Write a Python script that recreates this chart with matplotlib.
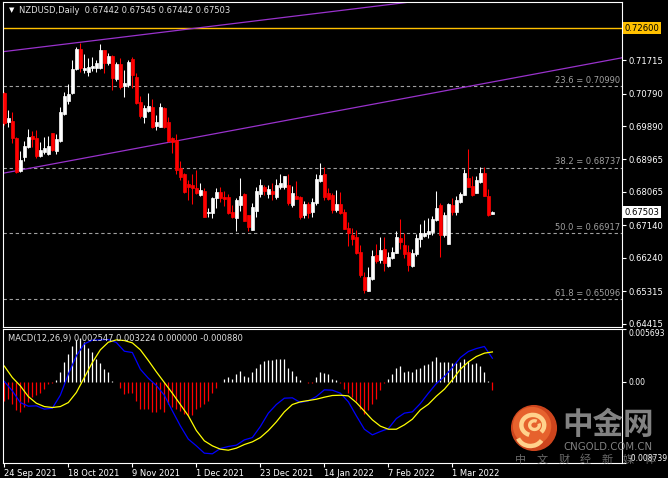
import matplotlib.pyplot as plt
from matplotlib.patches import Circle, Arc
import numpy as np

# NZDUSD daily bars, bar 0 = 24 Sep 2021, last bar = 15 Mar 2022
opens = [
    0.7080, 0.7000, 0.7003, 0.6956, 0.6864, 0.6903, 0.6931, 0.6961, 0.6956, 0.6906,
    0.6917, 0.6911, 0.6970, 0.6920, 0.6947, 0.7022, 0.7058, 0.7080, 0.7147, 0.7202,
    0.7144, 0.7139, 0.7150, 0.7150, 0.7150, 0.7199, 0.7163, 0.7183, 0.7119, 0.7161,
    0.7100, 0.7103, 0.7175, 0.7125, 0.7055, 0.7014, 0.7030, 0.7042, 0.6989, 0.6986,
    0.7039, 0.7000, 0.6956, 0.6950, 0.6873, 0.6856, 0.6828, 0.6825, 0.6817, 0.6798,
    0.6809, 0.6748, 0.6748, 0.6790, 0.6806, 0.6792, 0.6792, 0.6751, 0.6734, 0.6770,
    0.6801, 0.6742, 0.6701, 0.6754, 0.6801, 0.6820, 0.6801, 0.6809, 0.6792, 0.6820,
    0.6820, 0.6826, 0.6770, 0.6795, 0.6792, 0.6742, 0.6773, 0.6751, 0.6776, 0.6837,
    0.6856, 0.6803, 0.6798, 0.6756, 0.6773, 0.6751, 0.6707, 0.6687, 0.6682, 0.6640,
    0.6571, 0.6532, 0.6565, 0.6632, 0.6618, 0.6649, 0.6601, 0.6623, 0.6637, 0.6679,
    0.6659, 0.6640, 0.6601, 0.6635, 0.6676, 0.6684, 0.6690, 0.6695, 0.6729, 0.6770,
    0.6687, 0.6662, 0.6770, 0.6751, 0.6778, 0.6798, 0.6845, 0.6823, 0.6803, 0.6834,
    0.6859, 0.6795, 0.67442]
highs = [
    0.7083, 0.7033, 0.7028, 0.6959, 0.6920, 0.6947, 0.6981, 0.6975, 0.6978, 0.6945,
    0.6959, 0.6961, 0.6970, 0.6967, 0.7042, 0.7083, 0.7105, 0.7172, 0.7208, 0.7219,
    0.7188, 0.7177, 0.7180, 0.7172, 0.7216, 0.7200, 0.7191, 0.7186, 0.7166, 0.7177,
    0.7144, 0.7172, 0.7180, 0.7136, 0.7072, 0.7047, 0.7080, 0.7064, 0.7019, 0.7053,
    0.7042, 0.7014, 0.6959, 0.6967, 0.6892, 0.6859, 0.6839, 0.6856, 0.6867, 0.6831,
    0.6817, 0.6762, 0.6792, 0.6817, 0.6820, 0.6809, 0.6801, 0.6770, 0.6790, 0.6845,
    0.6803, 0.6742, 0.6776, 0.6820, 0.6842, 0.6826, 0.6826, 0.6831, 0.6842, 0.6856,
    0.6850, 0.6856, 0.6823, 0.6837, 0.6795, 0.6781, 0.6778, 0.6790, 0.6856, 0.6886,
    0.6875, 0.6817, 0.6803, 0.6812, 0.6806, 0.6759, 0.6723, 0.6707, 0.6701, 0.6659,
    0.6585, 0.6598, 0.6646, 0.6662, 0.6681, 0.6681, 0.6640, 0.6654, 0.6698, 0.6731,
    0.6693, 0.6659, 0.6648, 0.6690, 0.6717, 0.6729, 0.6734, 0.6740, 0.6809, 0.6776,
    0.6751, 0.6776, 0.6790, 0.6795, 0.6806, 0.6870, 0.6925, 0.6850, 0.6850, 0.6875,
    0.6875, 0.6815, 0.67545]
lows = [
    0.6992, 0.6986, 0.6942, 0.6859, 0.6862, 0.6892, 0.6928, 0.6931, 0.6900, 0.6903,
    0.6911, 0.6909, 0.6920, 0.6911, 0.6945, 0.7019, 0.7050, 0.7078, 0.7144, 0.7139,
    0.7136, 0.7128, 0.7141, 0.7139, 0.7147, 0.7136, 0.7158, 0.7089, 0.7114, 0.7091,
    0.7069, 0.7097, 0.7094, 0.7050, 0.7011, 0.6997, 0.7028, 0.6983, 0.6978, 0.6985,
    0.6983, 0.6945, 0.6914, 0.6856, 0.6839, 0.6803, 0.6784, 0.6773, 0.6801, 0.6795,
    0.6736, 0.6737, 0.6734, 0.6762, 0.6778, 0.6768, 0.6745, 0.6734, 0.6698, 0.6754,
    0.6726, 0.6698, 0.6701, 0.6737, 0.6792, 0.6798, 0.6790, 0.6784, 0.6787, 0.6815,
    0.6815, 0.6770, 0.6765, 0.6787, 0.6731, 0.6734, 0.6734, 0.6737, 0.6770, 0.6834,
    0.6784, 0.6784, 0.6748, 0.6751, 0.6745, 0.6704, 0.6657, 0.6659, 0.6635, 0.6570,
    0.6526, 0.6532, 0.6562, 0.6610, 0.6610, 0.6587, 0.6598, 0.6621, 0.6637, 0.6648,
    0.6624, 0.6587, 0.6598, 0.6629, 0.6654, 0.6681, 0.6679, 0.6687, 0.6726, 0.6626,
    0.6681, 0.6662, 0.6742, 0.6742, 0.6776, 0.6798, 0.6820, 0.6795, 0.6803, 0.6831,
    0.6795, 0.6740, 0.67442]
closes = [
    0.6997, 0.7011, 0.6956, 0.6862, 0.6895, 0.6934, 0.6959, 0.6953, 0.6906, 0.6923,
    0.6928, 0.6934, 0.6923, 0.6953, 0.7028, 0.7072, 0.7078, 0.7147, 0.7202, 0.7150,
    0.7150, 0.7152, 0.7155, 0.7163, 0.7200, 0.7163, 0.7183, 0.7122, 0.7161, 0.7097,
    0.7108, 0.7166, 0.7130, 0.7053, 0.7017, 0.7039, 0.7044, 0.6986, 0.7000, 0.7042,
    0.6986, 0.6947, 0.6945, 0.6867, 0.6848, 0.6806, 0.6820, 0.6817, 0.6803, 0.6812,
    0.6737, 0.6751, 0.6790, 0.6806, 0.6790, 0.6787, 0.6748, 0.6737, 0.6784, 0.6795,
    0.6726, 0.6709, 0.6765, 0.6809, 0.6826, 0.6809, 0.6815, 0.6801, 0.6826, 0.6831,
    0.6850, 0.6776, 0.6803, 0.6787, 0.6737, 0.6773, 0.6748, 0.6778, 0.6842, 0.6853,
    0.6792, 0.6787, 0.6756, 0.6773, 0.6748, 0.6704, 0.6693, 0.6676, 0.6637, 0.6575,
    0.6535, 0.6571, 0.6629, 0.6615, 0.6646, 0.6610, 0.6626, 0.6640, 0.6682, 0.6668,
    0.6635, 0.6604, 0.6637, 0.6679, 0.6693, 0.6693, 0.6698, 0.6731, 0.6762, 0.6687,
    0.6742, 0.6773, 0.6751, 0.6784, 0.6801, 0.6859, 0.6820, 0.6798, 0.6839, 0.6859,
    0.6795, 0.6742, 0.67503]

# MACD(12,26,9) histogram, one value per bar
macd_hist = [
    -0.00205, -0.00187, -0.00241, -0.00302, -0.00323, -0.00276, -0.00215, -0.00158, -0.00144, -0.00115,
    -0.00072, -0.00018, -0.00007, 0.00018, 0.00101, 0.00215, 0.00298, 0.00388, 0.00452, 0.00467,
    0.00424, 0.00370, 0.00323, 0.00251, 0.00208, 0.00136, 0.00101, 0.00011, -0.00003, -0.00061,
    -0.00133, -0.00122, -0.00115, -0.00205, -0.00294, -0.00287, -0.00294, -0.00330, -0.00323, -0.00287,
    -0.00330, -0.00241, -0.00276, -0.00287, -0.00312, -0.00348, -0.00366, -0.00359, -0.00294, -0.00266,
    -0.00241, -0.00205, -0.00122, -0.00061, 0.00000, 0.00036, 0.00047, 0.00029, 0.00083, 0.00118,
    0.00065, 0.00057, 0.00101, 0.00144, 0.00190, 0.00226, 0.00237, 0.00237, 0.00244, 0.00244,
    0.00244, 0.00154, 0.00118, 0.00065, 0.00022, 0.00002, -0.00007, -0.00014, 0.00047, 0.00108,
    0.00093, 0.00083, 0.00036, 0.00022, -0.00007, -0.00079, -0.00122, -0.00158, -0.00205, -0.00287,
    -0.00348, -0.00302, -0.00241, -0.00187, -0.00086, -0.00014, 0.00029, 0.00083, 0.00144, 0.00172,
    0.00101, 0.00118, 0.00108, 0.00136, 0.00154, 0.00180, 0.00190, 0.00226, 0.00273, 0.00215,
    0.00215, 0.00215, 0.00208, 0.00208, 0.00215, 0.00244, 0.00226, 0.00190, 0.00208, 0.00172,
    0.00101, 0.00010, -0.00088]

# MACD main / signal lines, read every second bar
line_idx = list(range(0, 123, 2))
macd_main = [
    0.00004, -0.00097, -0.00223, -0.00262, -0.00258, -0.00294, -0.00284, -0.00144, 0.00083, 0.00280,
    0.00409, 0.00449, 0.00452, 0.00456, 0.00424, 0.00330, 0.00316, 0.00136, 0.00039, -0.00039,
    -0.00144, -0.00312, -0.00474, -0.00617, -0.00689, -0.00768, -0.00775, -0.00718, -0.00696, -0.00682,
    -0.00625, -0.00600, -0.00481, -0.00337, -0.00244, -0.00176, -0.00172, -0.00223, -0.00205, -0.00158,
    -0.00086, -0.00090, -0.00122, -0.00215, -0.00366, -0.00510, -0.00571, -0.00535, -0.00503, -0.00395,
    -0.00337, -0.00323, -0.00233, -0.00122, -0.00018, 0.00057, 0.00154, 0.00262, 0.00327, 0.00359,
    0.00381, 0.002547]
macd_signal = [
    0.00170, 0.00047, -0.00043, -0.00158, -0.00230, -0.00266, -0.00276, -0.00266, -0.00223, -0.00115,
    0.00047, 0.00208, 0.00345, 0.00427, 0.00452, 0.00445, 0.00420, 0.00345, 0.00230, 0.00108,
    -0.00007, -0.00122, -0.00244, -0.00366, -0.00524, -0.00635, -0.00689, -0.00725, -0.00736, -0.00714,
    -0.00675, -0.00646, -0.00600, -0.00524, -0.00431, -0.00323, -0.00244, -0.00215, -0.00201, -0.00187,
    -0.00165, -0.00147, -0.00144, -0.00151, -0.00223, -0.00316, -0.00409, -0.00477, -0.00510, -0.00510,
    -0.00463, -0.00402, -0.00302, -0.00241, -0.00154, -0.00079, 0.00022, 0.00136, 0.00215, 0.00273,
    0.00309, 0.003224]

fib_names = ['23.6', '38.2', '50.0', '61.8']
fib_levels = [0.70990, 0.68737, 0.66917, 0.65096]
resistance = 0.72600
last_price = 0.67503
price_ticks = [0.71715, 0.70790, 0.69890, 0.68965, 0.68065, 0.67140, 0.66240, 0.65315, 0.64415]
# channel anchors (bar, price)
upper_line = [(0, 0.71953), (100, 0.73305)]
lower_line = [(0, 0.68588), (122, 0.71110)]

date_idx = [0, 16, 32, 48, 64, 80, 96, 112]
date_labels = ['24 Sep 2021', '18 Oct 2021', '9 Nov 2021', '1 Dec 2021',
               '23 Dec 2021', '14 Jan 2022', '7 Feb 2022', '1 Mar 2022']

W, H = 668, 478
fig = plt.figure(figsize=(W / 100, H / 100), dpi=100, facecolor='black')
ax = fig.add_axes([3 / W, 1 - 327 / H, 619 / W, 325 / H], facecolor='black')
ax2 = fig.add_axes([3 / W, 15 / H, 619 / W, 134 / H], facecolor='black', sharex=ax)

for a in (ax, ax2):
    for s in a.spines.values():
        s.set_color('white')
        s.set_linewidth(0.8)

o = np.array(opens)
c = np.array(closes)
idx = np.arange(len(c))
cols = np.where(c >= o, 'white', '#ff0000')

ax.axhline(resistance, color='#ffc000', lw=1.0, zorder=1)
for name, lv in zip(fib_names, fib_levels):
    ax.axhline(lv, color='#a0a0a0', lw=0.8, ls=(0, (3, 2.5)), zorder=1)
    ax.text(0.997, lv + 0.0004, f'{name} = {lv:.5f}', transform=ax.get_yaxis_transform(),
            ha='right', va='bottom', color='#a0a0a0', fontsize=6)
ax.axline(upper_line[0], upper_line[1], color='#9932cc', lw=0.9, zorder=1)
ax.axline(lower_line[0], lower_line[1], color='#9932cc', lw=0.9, zorder=1)

ax.vlines(idx, lows, highs, colors=cols, lw=0.75, zorder=2)
ax.bar(idx, np.abs(c - o), bottom=np.minimum(o, c), width=0.6, color=cols,
       edgecolor=cols, lw=0.5, zorder=3)

ax.set_xlim(-0.33, 154.4)
ax.set_ylim(0.64322, 0.73325)
ax.yaxis.tick_right()
ax.set_yticks(price_ticks)
ax.set_yticklabels([f'{t:.5f}' for t in price_ticks])
ax.tick_params(axis='y', colors='white', labelsize=6.1, length=3, pad=2)
ax.tick_params(axis='x', bottom=False, labelbottom=False)

ytr = ax.get_yaxis_transform()
ax.text(1.004, resistance, f'{resistance:.5f}', transform=ytr, ha='left', va='center',
        fontsize=6.1, color='black', clip_on=False,
        bbox=dict(facecolor='#ffc000', edgecolor='none', pad=1.3))
ax.text(1.004, last_price, f'{last_price:.5f}', transform=ytr, ha='left', va='center',
        fontsize=6.1, color='black', clip_on=False,
        bbox=dict(facecolor='white', edgecolor='none', pad=1.3))

ax.text(0.010, 0.975, '\u25bc', transform=ax.transAxes, color='white', fontsize=5,
        va='center', ha='left')
ax.text(0.026, 0.975, f'NZDUSD,Daily  {opens[-1]:.5f} {highs[-1]:.5f} {lows[-1]:.5f} {closes[-1]:.5f}',
        transform=ax.transAxes, color='#e0e0e0', fontsize=6, va='center', ha='left')

# MACD panel
hist = np.array(macd_hist)
ax2.vlines(idx, 0, hist, colors=np.where(hist >= 0, 'white', '#ff0000'), lw=0.9)
ax2.plot(line_idx, macd_main, color='#0000ff', lw=0.9)
ax2.plot(line_idx, macd_signal, color='#ffff00', lw=0.9)
ax2.set_ylim(-0.008739, 0.005693)
ax2.yaxis.tick_right()
ax2.set_yticks([0.005693, 0.0, -0.008739])
ax2.set_yticklabels(['0.005693', '0.00', '-0.008739'])
ax2.tick_params(axis='y', colors='white', labelsize=5.5, length=3, pad=1.5)
yl = ax2.get_yticklabels()
yl[0].set_va('top')
yl[2].set_va('bottom')
ax2.set_xticks(date_idx)
ax2.set_xticklabels(date_labels, ha='left')
ax2.tick_params(axis='x', colors='white', labelsize=6, length=3, pad=1)
ax2.text(0.008, 0.93, f'MACD(12,26,9) {macd_main[-1]:.6f} {macd_signal[-1]:.6f} 0.000000 {macd_hist[-1]:.6f}',
         transform=ax2.transAxes, color='#e0e0e0', fontsize=6, va='center', ha='left')

# watermark
cjk = ['Noto Sans CJK SC', 'DejaVu Sans']
lax = fig.add_axes([510 / W, (H - 452) / H, 48 / W, 48 / H])
lax.set_xlim(-1, 1)
lax.set_ylim(-1, 1)
lax.set_aspect('equal')
lax.axis('off')
lax.add_patch(Circle((0, 0), 0.96, fc='#d94a1f', ec='none', alpha=0.95))
lax.add_patch(Circle((-0.08, 0.08), 0.80, fc='#e8642e', ec='none', alpha=0.95))
lax.add_patch(Arc((-0.05, 0.12), 0.95, 0.85, theta1=-40, theta2=250, lw=3.2, color='#ffd28c'))
lax.add_patch(Arc((0.02, 0.12), 0.40, 0.36, theta1=60, theta2=380, lw=2.4, color='#ffd28c'))
lax.add_patch(Arc((-0.15, -0.25), 1.1, 1.0, theta1=200, theta2=330, lw=3.2, color='#ffd28c'))
fig.text(562 / W, 1 - 425 / H, '中金网', family=cjk, fontsize=22, fontweight='bold',
         color='#9a9a9a', alpha=0.85, va='center', ha='left')
fig.text(608 / W, 1 - 447 / H, 'CNGOLD.COM.CN', fontsize=7.3, color='#9a9a9a',
         alpha=0.85, va='center', ha='center')
for k, ch in enumerate('中文财经新媒体'):
    fig.text((521 + 21.5 * k) / W, 1 - 460 / H, ch, family=cjk, fontsize=8,
             color='#8c8c8c', alpha=0.75, va='center', ha='center')

fig.savefig('out.png', dpi=100, facecolor='black')
